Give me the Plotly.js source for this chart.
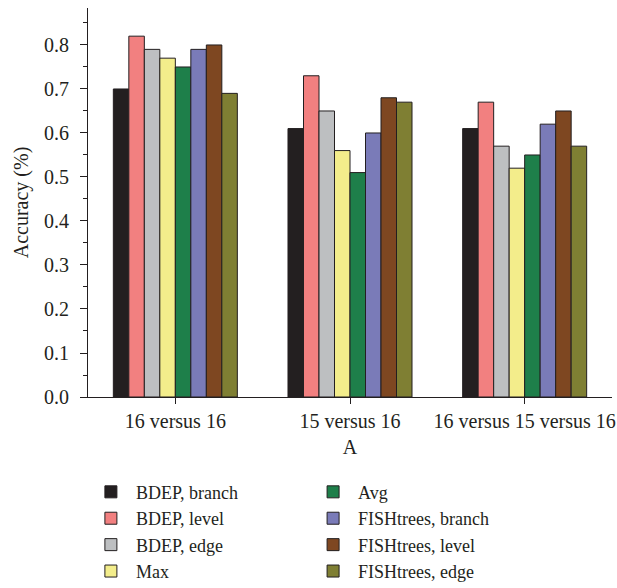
<!DOCTYPE html>
<html><head><meta charset="utf-8">
<script src="https://cdn.plot.ly/plotly-3.0.1.min.js"></script>
<style>html,body{margin:0;padding:0;background:#fff}</style>
</head><body><div id="chart" style="width:617px;height:588px"></div>
<script>
const categories = ["16 versus 16", "15 versus 16", "16 versus 15 versus 16"];
const seriesNames = ["BDEP, branch", "BDEP, level", "BDEP, edge", "Max", "Avg", "FISHtrees, branch", "FISHtrees, level", "FISHtrees, edge"];
const bdepBranch = [0.70, 0.61, 0.61];
const bdepLevel = [0.82, 0.73, 0.67];
const bdepEdge = [0.79, 0.65, 0.57];
const maxVals = [0.77, 0.56, 0.52];
const avgVals = [0.75, 0.51, 0.55];
const fishBranch = [0.79, 0.60, 0.62];
const fishLevel = [0.80, 0.68, 0.65];
const fishEdge = [0.69, 0.67, 0.57];
const seriesValues = [bdepBranch, bdepLevel, bdepEdge, maxVals, avgVals, fishBranch, fishLevel, fishEdge];
const colors = ["#231f20", "#f28080", "#bdbfc1", "#f3ed8b", "#1e7f4a", "#7a7bb8", "#7e4721", "#7f7f33"];

const font = "Liberation Serif, Times New Roman, serif";
const fs = 20;
const txt = {family: font, size: fs, color: "#231f20"};
const traces = seriesNames.map((n, i) => ({
  type: "bar", name: n, x: categories, y: seriesValues[i],
  marker: {color: colors[i], line: {color: "#231f20", width: 1}},
  legend: i < 4 ? "legend" : "legend2"
}));

const legendStyle = {
  font: {family: font, size: 18, color: "#231f20"},
  bgcolor: "rgba(0,0,0,0)", orientation: "v", tracegroupgap: 0,
  itemwidth: 40, xanchor: "left", yanchor: "top", traceorder: "normal"
};

const layout = {
  width: 617, height: 588,
  margin: {l: 88, r: 5, t: 8, b: 191, autoexpand: false},
  paper_bgcolor: "#fff", plot_bgcolor: "#fff",
  font: txt,
  barmode: "group", bargap: 0.29, bargroupgap: 0,
  showlegend: true,
  legend: Object.assign({}, legendStyle, {x: -0.004, y: -0.197}),
  legend2: Object.assign({}, legendStyle, {x: 0.42, y: -0.197}),
  xaxis: {
    range: [-0.5, 2.5], showline: true, linecolor: "#231f20", linewidth: 1,
    ticks: "outside", ticklen: 6, tickcolor: "#231f20",
    showgrid: false, zeroline: false,
    tickfont: txt,
    title: {text: "A", font: txt, standoff: 8}
  },
  yaxis: {
    range: [0, 0.884], showline: true, linecolor: "#231f20", linewidth: 1,
    ticks: "outside", ticklen: 7, tickcolor: "#231f20", dtick: 0.1, tick0: 0,
    tickformat: ".1f", showgrid: false, zeroline: false, ticklabelstandoff: 7,
    minor: {dtick: 0.05, ticks: "outside", ticklen: 4, tickcolor: "#231f20", showgrid: false},
    tickfont: txt,
    title: {text: "Accuracy (%)", font: txt, standoff: 10}
  }
};
Plotly.newPlot("chart", traces, layout, {displayModeBar: false, staticPlot: true});
</script></body></html>
